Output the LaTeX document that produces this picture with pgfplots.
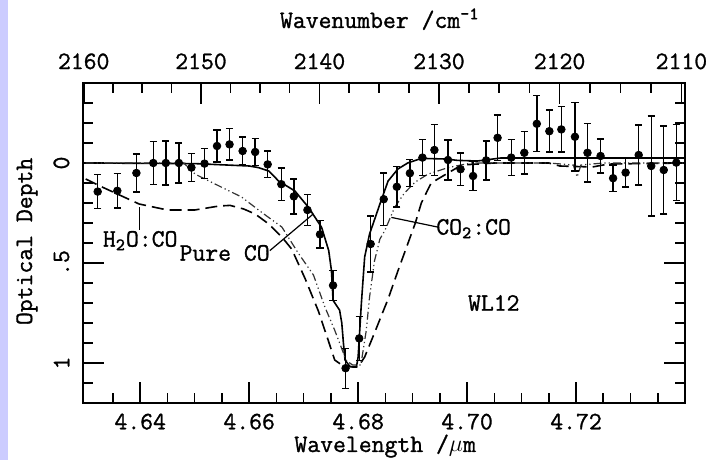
\documentclass[border=0pt]{standalone}
\usepackage{fontspec}
\setmonofont{Latin Modern Mono}[FakeBold=1.2]
\usepackage{pgfplots}
\pgfplotsset{compat=1.18}
\definecolor{lav}{RGB}{204,204,255}
\newcommand{\cf}{\fontsize{12.5}{15}\selectfont\ttfamily}
\pgfplotstableread{
x y e
4.6322 0.143 0.085
4.6358 0.139 0.085
4.6393 0.050 0.095
4.6424 0.000 0.106
4.6447 0.000 0.110
4.6471 0.000 0.100
4.6494 0.023 0.070
4.6518 0.003 0.075
4.6541 -0.085 0.080
4.6564 -0.093 0.078
4.6588 -0.060 0.070
4.6611 -0.055 0.068
4.6634 0.007 0.066
4.6659 0.106 0.080
4.6682 0.167 0.087
4.6707 0.235 0.078
4.6730 0.357 0.068
4.6754 0.612 0.075
4.6777 1.026 0.100
4.6802 0.877 0.110
4.6823 0.405 0.140
4.6847 0.181 0.130
4.6871 0.119 0.100
4.6895 0.051 0.067
4.6918 -0.027 0.090
4.6940 -0.065 0.127
4.6965 -0.015 0.100
4.6988 0.031 0.080
4.7011 0.065 0.073
4.7035 -0.013 0.097
4.7056 -0.126 0.114
4.7081 -0.027 0.090
4.7105 -0.051 0.106
4.7128 -0.196 0.140
4.7151 -0.159 0.105
4.7173 -0.168 0.113
4.7198 -0.131 0.170
4.7221 -0.051 0.146
4.7245 -0.035 0.085
4.7268 0.076 0.067
4.7291 0.048 0.071
4.7315 -0.040 0.150
4.7338 0.015 0.250
4.7361 0.035 0.220
4.7384 -0.002 0.190
}\obs
\pgfplotstableread{
x y
4.6300 0.000
4.6500 0.003
4.6600 0.015
4.6617 0.023
4.6636 0.040
4.6654 0.090
4.6684 0.140
4.6709 0.222
4.6733 0.322
4.6746 0.438
4.6751 0.537
4.6754 0.687
4.6766 0.736
4.6770 0.800
4.6773 0.900
4.6776 0.985
4.6785 1.018
4.6797 1.018
4.6800 0.970
4.6803 0.836
4.6806 0.700
4.6812 0.470
4.6821 0.355
4.6840 0.205
4.6855 0.090
4.6873 0.030
4.6891 0.000
4.6916 -0.023
4.6960 -0.020
4.6983 -0.013
4.7019 -0.010
4.7062 -0.025
4.7400 -0.025
}\pureco
\pgfplotstableread{
x y
4.6300 0.080
4.6330 0.120
4.6358 0.155
4.6398 0.205
4.6450 0.235
4.6500 0.235
4.6545 0.215
4.6565 0.212
4.6590 0.230
4.6611 0.255
4.6636 0.305
4.6660 0.370
4.6678 0.430
4.6703 0.580
4.6727 0.740
4.6745 0.886
4.6757 0.985
4.6770 1.010
4.6790 1.020
4.6800 1.020
4.6812 0.970
4.6830 0.850
4.6855 0.680
4.6873 0.540
4.6891 0.405
4.6905 0.300
4.6916 0.200
4.6934 0.100
4.6965 0.050
4.6990 0.010
4.7050 0.000
4.7150 0.000
4.7170 0.015
4.7230 0.020
4.7260 0.005
4.7400 0.000
}\htwoo
\pgfplotstableread{
x y
4.6300 0.000
4.6480 0.000
4.6501 0.056
4.6556 0.130
4.6586 0.170
4.6623 0.247
4.6660 0.320
4.6690 0.450
4.6718 0.560
4.6739 0.720
4.6757 0.836
4.6773 0.950
4.6779 0.990
4.6790 1.010
4.6805 1.010
4.6815 0.836
4.6821 0.670
4.6830 0.490
4.6840 0.380
4.6849 0.338
4.6867 0.222
4.6885 0.150
4.6905 0.095
4.6928 0.056
4.6965 0.023
4.7007 0.000
4.7150 0.000
4.7195 0.010
4.7202 0.070
4.7209 0.010
4.7250 0.000
4.7400 0.000
}\cotwo
\begin{document}
\begin{tikzpicture}[font=\cf]
\useasboundingbox (-41.5pt,-28.5pt) rectangle (311.5pt,201.5pt);
\fill[lav] (-41.5pt,-28.5pt) rectangle (-37.3pt,201.5pt);
\begin{axis}[
 at={(0,0)}, anchor=south west,
 scale only axis, width=301pt, height=160pt,
 xmin=4.6295, xmax=4.74, ymin=-0.4, ymax=1.2, y dir=reverse,
 axis line style={line width=1pt},
 every tick/.style={black, line width=0.8pt},
 tick align=inside,
 major tick length=10.5pt, minor tick length=5pt,
 xtick pos=left,
 xtick={4.64,4.66,4.68,4.70,4.72},
 xticklabels={4.64,4.66,4.68,4.70,4.72},
 minor xtick={4.635,4.645,4.65,4.655,4.665,4.67,4.675,4.685,4.69,4.695,4.705,4.71,4.715,4.725,4.73,4.735},
 ytick={0,0.5,1}, yticklabels={0,.5,1},
 minor ytick={-0.3,-0.2,-0.1,0.1,0.2,0.3,0.4,0.6,0.7,0.8,0.9,1.1},
 ytick pos=both, yticklabel pos=left,
 tick label style={font=\cf},
 label style={font=\cf},
 xticklabel shift=1.8pt,
 yticklabel shift=3.3pt,
 yticklabel style={rotate=90, anchor=south},
 xlabel={Wavelength /$\mu$m},
 ylabel={Optical Depth},
 xlabel style={at={(axis description cs:0.502,-0.153)}, anchor=base},
 ylabel style={at={(axis description cs:-0.0847,0.505)}, anchor=base},
 clip=false,
]
\addplot[black, line width=0.8pt] table[x=x,y=y] {\pureco};
\addplot[black, line width=0.8pt, dash pattern=on 6pt off 3pt] table[x=x,y=y] {\htwoo};
\addplot[black!80, line width=0.6pt, dash pattern=on 4pt off 1.5pt on 0.6pt off 1.5pt on 0.6pt off 1.5pt] table[x=x,y=y] {\cotwo};
\addplot[black, only marks, mark=*, mark size=1.9pt,
  error bars/.cd, y dir=both, y explicit,
  error bar style={line width=0.7pt, black},
  error mark options={rotate=90, mark size=1.8pt, line width=0.7pt, black}]
  table[x=x, y=y, y error=e] {\obs};
\draw[line width=0.6pt] (axis cs:4.6399,0.222) -- (axis cs:4.6399,0.333);
\draw[line width=0.6pt] (axis cs:4.6638,0.438) -- (axis cs:4.6718,0.254);
\draw[line width=0.6pt] (axis cs:4.6861,0.272) -- (axis cs:4.6949,0.322);
\node[anchor=base, font=\cf] at (axis cs:4.6400,0.418) {H\textsubscript{2}O:CO};
\node[anchor=base, font=\cf] at (axis cs:4.6555,0.488) {Pure CO};
\node[anchor=base, font=\cf] at (axis cs:4.7012,0.358) {CO\textsubscript{2}:CO};
\node[anchor=center, font=\cf] at (axis cs:4.7049,0.700) {WL12};
\end{axis}
\begin{axis}[
 at={(0,0)}, anchor=south west,
 scale only axis, width=301pt, height=160pt,
 xmin=4.6295, xmax=4.74, ymin=-0.4, ymax=1.2, y dir=reverse,
 axis x line*=top, axis y line=none,
 axis line style={line width=1pt},
 every tick/.style={black, line width=0.8pt},
 tick align=inside,
 major tick length=10.5pt, minor tick length=5pt,
 xtick={4.62963,4.65116,4.67290,4.69484,4.71698,4.73934},
 xticklabels={2160,2150,2140,2130,2120,2110},
 minor xtick={4.63499,4.64037,4.64576,4.65658,4.66200,4.66744,4.67836,4.68384,4.68933,4.70035,4.70588,4.71143,4.72255,4.72813,4.73373},
 tick label style={font=\cf},
 label style={font=\cf},
 xticklabel shift=3.3pt,
 xlabel={Wavenumber /cm\textsuperscript{-1}},
 xlabel style={at={(axis description cs:0.493,1.172)}, anchor=base},
]
\end{axis}
\end{tikzpicture}
\end{document}
